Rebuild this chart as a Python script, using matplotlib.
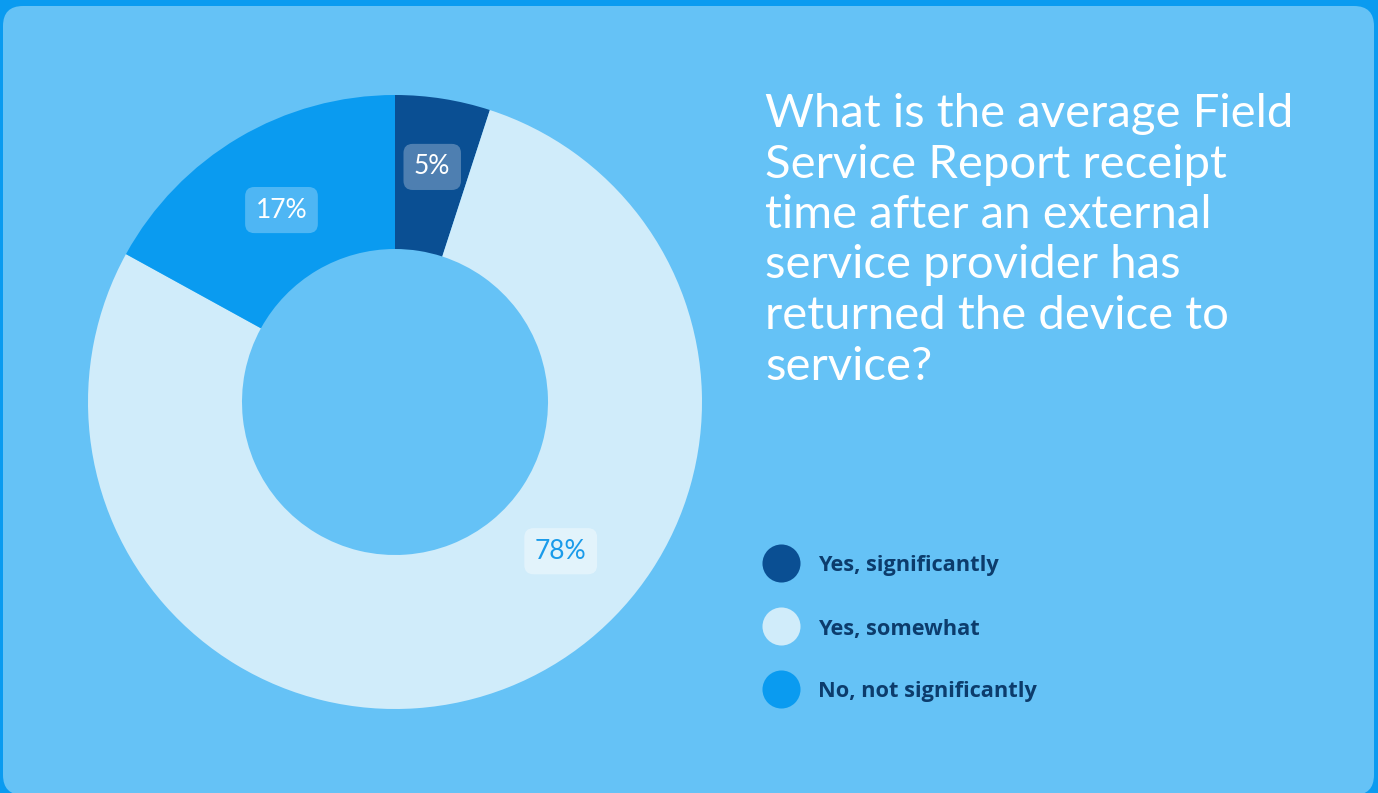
import numpy as np
import matplotlib
matplotlib.use("Agg")
import matplotlib.pyplot as plt
from matplotlib.patches import FancyBboxPatch

# survey answers, in clockwise order from 12 o'clock
labels = ["Yes, significantly", "Yes, somewhat", "No, not significantly"]
shares = [5, 78, 17]
colors = ["#0A4F93", "#D0ECFA", "#0A9BF0"]
question = ("What is the average Field\nService Report receipt\ntime after an external\n"
            "service provider has\nreturned the device to\nservice?")

W, H = 1378, 793
fig = plt.figure(figsize=(W / 100, H / 100), dpi=100)
fig.patch.set_facecolor("#0A9BF0")
ax = fig.add_axes([0, 0, 1, 1])

# rounded card behind everything
card = FancyBboxPatch((3, -2), W - 7, H - 6 + 2, boxstyle="round,pad=0,rounding_size=20",
                      fc="#65C2F6", ec="none", zorder=0)
ax.add_patch(card)

cx, cy, r = 395, H - 402, 307
wedges, _ = ax.pie(shares, colors=colors, startangle=90, counterclock=False,
                   radius=r, center=(cx, cy),
                   wedgeprops=dict(width=154, linewidth=0))

# percentage tags sitting on the ring (angle measured clockwise from top)
tag_r = [238, 223, 223]
tag_style = [("white", (1, 1, 1, 0.28)), ("#1A9BEA", (1, 1, 1, 0.4)), ("white", (1, 1, 1, 0.28))]
start = 0.0
for i, v in enumerate(shares):
    sweep = v / 100 * 360
    mid = start + sweep / 2
    if v > 50:
        mid = start + 114  # big slice: tag sits lower right
    start += sweep
    ang = np.radians(90 - mid)
    x = cx + tag_r[i] * np.cos(ang)
    y = cy + tag_r[i] * np.sin(ang)
    tc, fc = tag_style[i]
    ax.text(x, y, f"{v}%", ha="center", va="center", fontsize=19, color=tc,
            family="Lato",
            bbox=dict(boxstyle="round,pad=0.4,rounding_size=0.35", fc=fc, ec="none"))

ax.text(765, H - 93, question, ha="left", va="top", fontsize=34, color="white",
        family="Lato", linespacing=1.25)

# legend as dots + bold labels
for i, (lab, c) in enumerate(zip(labels, colors)):
    ly = H - (563 + 63 * i)
    ax.scatter([781], [ly], s=750, color=c, zorder=3, linewidths=0)
    ax.text(818, ly - 3, lab, ha="left", va="center", fontsize=15.7, fontweight="bold",
            color="#0C3C6C", family="Open Sans")

ax.set_xlim(0, W)
ax.set_ylim(0, H)
ax.set_aspect("equal")
ax.axis("off")

fig.savefig("out.png", dpi=100, facecolor=fig.get_facecolor())
